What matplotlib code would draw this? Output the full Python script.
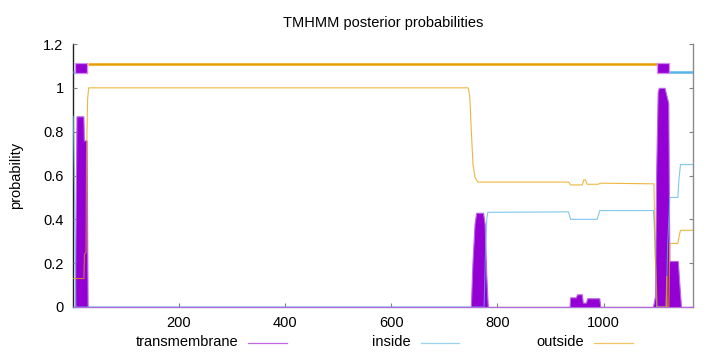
import matplotlib
matplotlib.use("Agg")
import matplotlib.pyplot as plt
from matplotlib.lines import Line2D
from matplotlib.patches import Rectangle

# ---------------- data ----------------
title = "TMHMM posterior probabilities"
ylabel = "probability"
legend_labels = ["transmembrane", "inside", "outside"]
seq_len = 1168

# transmembrane posterior (breakpoints)
tm_pos = [1, 4, 6, 7, 20, 21, 26, 28, 750, 753, 757, 760, 773, 776, 779, 782,
          936, 937, 948, 950, 959, 961, 967, 969, 992, 994, 1093, 1097, 1099,
          1102, 1104, 1115, 1118, 1122, 1124, 1140, 1143, 1146, 1168]
tm_prob = [0.0, 0.0, 0.6, 0.87, 0.87, 0.76, 0.76, 0.0, 0.0, 0.2, 0.38, 0.43,
           0.43, 0.38, 0.15, 0.0, 0.0, 0.044, 0.044, 0.058, 0.058, 0.02, 0.02,
           0.04, 0.04, 0.0, 0.0, 0.05, 0.6, 0.98, 1.0, 1.0, 0.97, 0.93, 0.21,
           0.21, 0.1, 0.0, 0.0]

# inside posterior
in_pos = [1, 3, 4, 6, 775, 777, 780, 782, 934, 938, 988, 993, 1094, 1097,
          1100, 1118, 1121, 1125, 1140, 1142, 1145, 1168]
in_prob = [0.87, 0.6, 0.34, 0.0, 0.0, 0.2, 0.40, 0.432, 0.434, 0.40, 0.40,
           0.44, 0.44, 0.3, 0.0, 0.0, 0.3, 0.50, 0.50, 0.58, 0.65, 0.65]

# outside posterior
out_pos = [1, 21, 22, 25, 26, 28, 30, 745, 748, 751, 754, 758, 763, 934, 938,
           960, 963, 966, 969, 990, 994, 1095, 1097, 1099, 1101, 1118, 1119,
           1120, 1123, 1125, 1140, 1143, 1145, 1168]
out_prob = [0.13, 0.13, 0.24, 0.25, 0.70, 0.95, 1.0, 1.0, 0.96, 0.8, 0.65,
            0.59, 0.57, 0.57, 0.557, 0.557, 0.58, 0.58, 0.56, 0.56, 0.565,
            0.562, 0.26, 0.14, 0.0, 0.0, 0.14, 0.0, 0.0, 0.29, 0.29, 0.33,
            0.35, 0.35]

# predicted topology (top bar)
region_type = ["inside", "TMhelix", "outside", "TMhelix", "inside"]
region_start = [1, 5, 28, 1101, 1124]
region_end = [4, 27, 1100, 1123, 1168]

xticks = [200, 400, 600, 800, 1000]
yticks = [0, 0.2, 0.4, 0.6, 0.8, 1.0, 1.2]
ytick_labels = ["0", "0.2", "0.4", "0.6", "0.8", "1", "1.2"]

# ---------------- style ----------------
FONT = "Liberation Sans"
FS = 10.5
C_TM = "#9400D3"
C_TM_EDGE = "#b868e6"
C_IN = "#56B4E9"
C_OUT = "#E69F00"

plt.rcParams["font.family"] = [FONT, "DejaVu Sans"]

fig = plt.figure(figsize=(7.2, 3.52), dpi=100)
ax = fig.add_axes([73.3 / 720, 1 - 307 / 352, (692.7 - 73.3) / 720, (307 - 44) / 352])

# transmembrane as filled impulses
ax.fill_between(tm_pos, 0, tm_prob, facecolor=C_TM, edgecolor=C_TM_EDGE,
                linewidth=0.8, zorder=2)
# inside / outside thin lines
ax.plot(in_pos, in_prob, color=C_IN, lw=0.8, alpha=0.75, zorder=3)
ax.plot(out_pos, out_prob, color=C_OUT, lw=0.8, alpha=0.75, zorder=3)

# topology bar at the top
for t, s, e in zip(region_type, region_start, region_end):
    if t == "TMhelix":
        ax.add_patch(Rectangle((s, 1.066), e - s, 0.046, facecolor=C_TM,
                               edgecolor="#d08cf2", linewidth=0.9, zorder=5))
    elif t == "inside":
        ax.plot([s, e], [1.070, 1.070], color=C_IN, lw=1.8,
                solid_capstyle="butt", zorder=4)
    else:
        ax.plot([s, e], [1.107, 1.107], color=C_OUT, lw=1.8,
                solid_capstyle="butt", zorder=4)

ax.set_xlim(1, seq_len)
ax.set_ylim(0, 1.2)
ax.set_xticks(xticks)
ax.set_xticklabels([str(v) for v in xticks])
ax.set_yticks(yticks)
ax.set_yticklabels(ytick_labels)

ax.tick_params(axis="both", direction="in", length=3, width=0.8,
               color="#808080", labelsize=FS, labelcolor="black")
ax.tick_params(axis="x", pad=6.5, top=False)
ax.tick_params(axis="y", pad=7, right=True)

ax.spines["top"].set_visible(False)
ax.spines["left"].set_color("#202020")
ax.spines["bottom"].set_color("#888888")
ax.spines["right"].set_color("#8c8c8c")
for side in ["left", "bottom", "right"]:
    ax.spines[side].set_linewidth(1.0)
    ax.spines[side].set_zorder(1)

fig.text(383 / 720, 1 - 22.5 / 352, title, ha="center", va="center", fontsize=FS)
fig.text(16 / 720, 1 - 175.5 / 352, ylabel, ha="center", va="center",
         rotation=90, fontsize=FS)

# legend below axis, gnuplot-style (text right aligned, sample to the right)
leg_colors = [C_TM, C_IN, C_OUT]
text_right = [238, 411, 584]
ly = 342
for lab, col, xr in zip(legend_labels, leg_colors, text_right):
    fig.text(xr / 720, 1 - ly / 352, lab, ha="right", va="center", fontsize=FS)
    fig.add_artist(Line2D([(xr + 10) / 720, (xr + 48.5) / 720],
                          [1 - (ly + 0.5) / 352, 1 - (ly + 0.5) / 352],
                          color=col, lw=0.9, alpha=0.6))

fig.savefig("out.png", dpi=100)
